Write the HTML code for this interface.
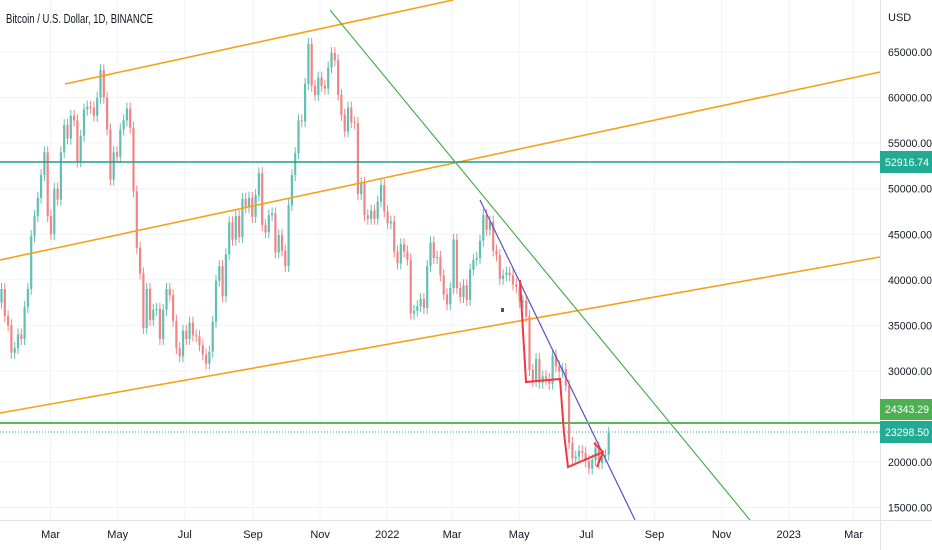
<!DOCTYPE html>
<html><head><meta charset="utf-8"><style>
body{margin:0;background:#fff;font-family:"Liberation Sans",sans-serif}
svg{display:block}
text{font-family:"Liberation Sans",sans-serif}
</style></head><body>
<svg id="chart" width="932" height="550" viewBox="0 0 932 550" xmlns="http://www.w3.org/2000/svg">
<rect width="932" height="550" fill="#fff"/>
<g id="grid"></g>
<g id="candles"></g>
<g id="drawings">
<line x1="65" y1="84" x2="453" y2="0" stroke="#f7a11a" stroke-width="1.6"/>
<line x1="0" y1="260" x2="880" y2="72" stroke="#f7a11a" stroke-width="1.6"/>
<line x1="0" y1="413" x2="880" y2="257" stroke="#f7a11a" stroke-width="1.6"/>
<line x1="0" y1="162" x2="880" y2="162" stroke="#1f9c8c" stroke-width="1.5"/>
<line x1="330" y1="10" x2="750" y2="520" stroke="#4caf50" stroke-width="1.2"/>
<line x1="480" y1="200" x2="635" y2="520" stroke="#5b4fc4" stroke-width="1.2"/>
<line x1="0" y1="423" x2="880" y2="423" stroke="#5cb85c" stroke-width="2"/>
<line x1="0" y1="432" x2="880" y2="432" stroke="#22ab94" stroke-width="1" stroke-dasharray="1,2"/>
<polyline points="520,280 526,382 560,379 564,433 568,467 603,452" fill="none" stroke="#f23645" stroke-width="2"/>
<polyline points="594,443 603,452 597,467" fill="none" stroke="#f23645" stroke-width="2"/>
<rect x="501" y="308" width="3" height="4" fill="#555"/>
</g>
<text x="6" y="23" font-size="12.5" fill="#131722" textLength="147" lengthAdjust="spacingAndGlyphs">Bitcoin / U.S. Dollar, 1D, BINANCE</text>
<line x1="880.5" y1="0" x2="880.5" y2="550" stroke="#e0e3eb"/>
<line x1="0" y1="520.5" x2="932" y2="520.5" stroke="#e0e3eb"/>
<text x="888" y="21" font-size="11" fill="#131722">USD</text>
<g id="yaxis"></g>
<g id="xaxis"></g>
<g>
<rect x="880" y="151" width="52" height="22" fill="#22ab94"/>
<text x="885" y="166" font-size="11" fill="#fff" textLength="44" lengthAdjust="spacingAndGlyphs">52916.74</text>
<rect x="880" y="399" width="52" height="21" fill="#4caf50"/>
<text x="885" y="413" font-size="11" fill="#fff" textLength="44" lengthAdjust="spacingAndGlyphs">24343.29</text>
<rect x="880" y="421" width="52" height="22" fill="#22ab94"/>
<text x="885" y="436" font-size="11" fill="#fff" textLength="44" lengthAdjust="spacingAndGlyphs">23298.50</text>
</g>
</svg>
<script>
const priceTicks=[65000,60000,55000,50000,45000,40000,35000,30000,20000,15000];
const timeTicks=["Mar","May","Jul","Sep","Nov","2022","Mar","May","Jul","Sep","Nov","2023","Mar"];
const timeTickDays=[46,107,168,230,291,352,411,472,533,595,656,717,776];
// closes (thousand USD), one every 3 days starting 2021-01-14
const closes=[39,36,35,32,32.5,34,33.5,37,39,44.8,47,49,51.5,54,47,45,50,48.8,54,57,55.5,58,57.5,53,55.8,58.7,59,58.9,58,60,63,60,56.5,51,54,53.5,56.5,57.5,58.8,56.7,49.7,43.5,40.7,34.7,39,35.6,36.7,36.8,33.5,36.7,39,38.3,35.5,32.5,31.6,34.4,33.5,35.3,33.9,33.8,32.8,31.8,30.8,32.1,35.4,39.9,41.5,38.2,42.8,46.3,44.4,47,44.7,48.9,48,49,46.9,49.3,51.7,46,45.2,47.1,47.3,43,44.9,43.2,41.5,48.2,51.5,53.9,57.5,57.4,61.5,65.9,61.3,60.3,62.2,61.3,61,63.3,64.9,64.1,60.3,58.1,56.3,58.9,57.3,57.2,49.4,50.6,47.1,46.7,47.6,46.7,48.6,50.4,47.5,46.2,46.4,43.1,41.8,43.9,43.1,42.2,36.3,36.6,37.1,37.9,36.9,41.5,44.1,42.4,42.5,40.5,38.4,37.3,39.1,44.4,39.1,38.1,39.4,37.8,41.1,42.2,42.4,44.3,47.1,45.5,46.4,43.2,42.7,40.1,40.5,40.8,40.5,39.5,39.2,37.6,37.7,36,30.1,28.9,31.3,28.7,29.4,29.1,28.6,31.7,30.5,29.9,30.2,28.4,22.1,20.4,20.6,21.2,21,20.1,19.3,20.2,21.6,19.9,20.6,20.8,23.2];
const firstOpen=37.5;
const NS="http://www.w3.org/2000/svg";
function yOf(v){return 462-(v-20000)*0.00911;}
function xOfDay(d){return d*1.1;}
function mk(tag,attrs,parent){const e=document.createElementNS(NS,tag);for(const k in attrs)e.setAttribute(k,attrs[k]);parent.appendChild(e);return e;}
const grid=document.getElementById('grid'),ya=document.getElementById('yaxis'),xa=document.getElementById('xaxis'),cg=document.getElementById('candles');
priceTicks.forEach(p=>{
 const y=yOf(p);
 const gl=mk('line',{x1:0,x2:880,y1:y,y2:y,stroke:'#f0f3fa'},grid);
 
 
 const t=mk('text',{x:888,y:y+4,'font-size':11,fill:'#131722',textLength:44,lengthAdjust:'spacingAndGlyphs'},ya);
 t.textContent=p.toFixed(2);
 
 
});
timeTicks.forEach((lab,i)=>{
 const x=xOfDay(timeTickDays[i]);
 const gl=mk('line',{x1:x,x2:x,y1:0,y2:520,stroke:'#f0f3fa'},grid);
 
 
 const t=mk('text',{x:x,y:538,'font-size':11,fill:'#131722','text-anchor':'middle'},xa);
 t.textContent=lab;
 
 
});
let prev=firstOpen;
closes.forEach((c,i)=>{
 const x=xOfDay(i*3)+1.5;
 const o=prev;prev=c;
 const up=c>=o;
 const col=up?'#62bfb2':'#ef8585';
 const yo=yOf(o*1000),yc=yOf(c*1000);
 const top=Math.min(yo,yc),bot=Math.max(yo,yc);
 const w=mk('line',{x1:x,x2:x,y1:top-6,y2:bot+6,stroke:col,'stroke-width':1},cg);
 
 
 const b=mk('rect',{x:x-1.1,y:top,width:2.2,height:Math.max(1,bot-top),fill:col},cg);
 
 
});
</script>
</body></html>
